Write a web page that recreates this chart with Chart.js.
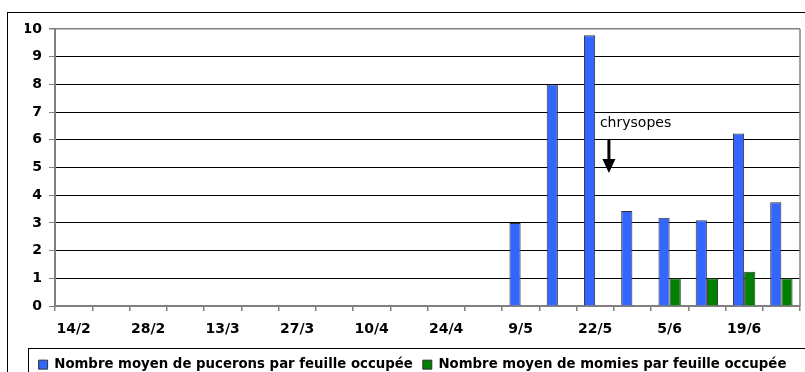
<!DOCTYPE html>
<html>
<head>
<meta charset="utf-8">
<script src="https://cdn.jsdelivr.net/npm/chart.js@4.4.0/dist/chart.umd.min.js"></script>
<style>
  html, body { margin: 0; padding: 0; background: #fff; }
  #wrap { width: 805px; height: 372px; }
</style>
</head>
<body>
<div id="wrap"><canvas id="c" width="805" height="372"></canvas></div>
<script>
// weekly sampling dates (only every other one is labelled on the axis)
const dates = ['14/2', '21/2', '28/2', '6/3', '13/3', '20/3', '27/3', '3/4', '10/4', '17/4',
               '24/4', '2/5', '9/5', '15/5', '22/5', '29/5', '5/6', '12/6', '19/6', '26/6'];
const pucerons = [null, null, null, null, null, null, null, null, null, null,
                  null, null, 3.0, 8.0, 9.77, 3.43, 3.19, 3.1, 6.23, 3.75];
const momies = [null, null, null, null, null, null, null, null, null, null,
                null, null, null, null, null, null, 1.0, 1.0, 1.24, 1.0];
const yTicks = [0, 1, 2, 3, 4, 5, 6, 7, 8, 9, 10];

// arrow note "chrysopes" (category index, y values)
const noteText = 'chrysopes';
const noteX = 14.37;
const noteTextY = 6.45;
const arrowFrom = 6.0;
const arrowTo = 4.8;

const FONT = 'DejaVu Sans';
const GREY = '#808080';

const framePlugin = {
  id: 'frame',
  beforeDraw(chart) {
    const ctx = chart.ctx;
    ctx.save();
    ctx.fillStyle = '#fff';
    ctx.fillRect(0, 0, chart.width, chart.height);
    ctx.strokeStyle = '#000';
    ctx.lineWidth = 1;
    ctx.strokeRect(7.5, 12.5, 810, 400);
    ctx.restore();
  },
  afterDraw(chart) {
    const ctx = chart.ctx;
    const a = chart.chartArea;
    const x = chart.scales.x, y = chart.scales.y;
    ctx.save();
    // plot area right border
    ctx.strokeStyle = GREY;
    ctx.lineWidth = 1.5;
    ctx.beginPath();
    ctx.moveTo(a.right, a.top);
    ctx.lineTo(a.right, a.bottom);
    ctx.stroke();

    // legend frame
    const hb = chart.legend.legendHitBoxes;
    if (hb && hb.length) {
      const cy = hb[0].top + hb[0].height / 2;
      ctx.strokeStyle = '#000';
      ctx.lineWidth = 1;
      ctx.strokeRect(Math.round(hb[0].left - 11) + 0.5, Math.round(cy - 17) + 0.5, 900, 60);
    }

    // annotation
    const px = x.getPixelForValue(noteX);
    const y0 = y.getPixelForValue(arrowFrom);
    const y1 = y.getPixelForValue(arrowTo);
    ctx.fillStyle = '#000';
    ctx.font = '14px "' + FONT + '"';
    ctx.textAlign = 'left';
    ctx.textBaseline = 'alphabetic';
    ctx.fillText(noteText, px - 9, y.getPixelForValue(noteTextY));
    ctx.strokeStyle = '#000';
    ctx.lineWidth = 3;
    ctx.beginPath();
    ctx.moveTo(px, y0);
    ctx.lineTo(px, y1 - 8);
    ctx.stroke();
    ctx.beginPath();
    ctx.moveTo(px - 6.5, y1 - 14);
    ctx.lineTo(px + 6.5, y1 - 14);
    ctx.lineTo(px, y1);
    ctx.closePath();
    ctx.fill();
    ctx.restore();
  }
};

new Chart(document.getElementById('c'), {
  type: 'bar',
  data: {
    labels: dates,
    datasets: [
      {
        label: 'Nombre moyen de pucerons par feuille occupée',
        data: pucerons,
        backgroundColor: '#3366FF',
        borderColor: '#333',
        borderWidth: 1,
        categoryPercentage: 0.6,
        barPercentage: 1.0
      },
      {
        label: 'Nombre moyen de momies par feuille occupée',
        data: momies,
        backgroundColor: '#008000',
        borderColor: '#333',
        borderWidth: 1,
        categoryPercentage: 0.6,
        barPercentage: 1.0
      }
    ]
  },
  options: {
    responsive: false,
    animation: false,
    layout: { padding: { top: 29, left: 25, right: 5, bottom: 0 } },
    plugins: {
      legend: {
        position: 'bottom',
        maxHeight: 24,
        labels: {
          color: '#000',
          boxWidth: 9,
          boxHeight: 9,
          padding: 10,
          font: { family: FONT, size: 13.3, weight: 'bold' }
        }
      },
      tooltip: { enabled: false }
    },
    scales: {
      x: {
        afterFit(scale) { scale.height = 42; },
        grid: {
          offset: true,
          drawOnChartArea: false,
          drawTicks: true,
          tickLength: 5,
          color: GREY,
          lineWidth: 1.5
        },
        border: { color: GREY, width: 2 },
        ticks: {
          autoSkip: false,
          maxRotation: 0,
          padding: 10,
          color: '#000',
          font: { family: FONT, size: 14, weight: 'bold' },
          callback(v, i) { return i % 2 === 0 ? dates[i] : ''; }
        }
      },
      y: {
        min: 0,
        max: 10,
        afterFit(scale) { scale.width = 30; },
        afterBuildTicks(scale) { scale.ticks = yTicks.map(v => ({ value: v })); },
        grid: {
          color: ctx => (ctx.tick && (ctx.tick.value === 10 || ctx.tick.value === 0)) ? GREY : '#000',
          lineWidth: ctx => (ctx.tick && ctx.tick.value === 10) ? 1.5 : 1,
          tickColor: GREY,
          tickLength: 6,
          drawTicks: true
        },
        border: { color: GREY, width: 2 },
        ticks: {
          padding: 7,
          color: '#000',
          font: { family: FONT, size: 14, weight: 'bold' }
        }
      }
    }
  },
  plugins: [framePlugin]
});
</script>
</body>
</html>
